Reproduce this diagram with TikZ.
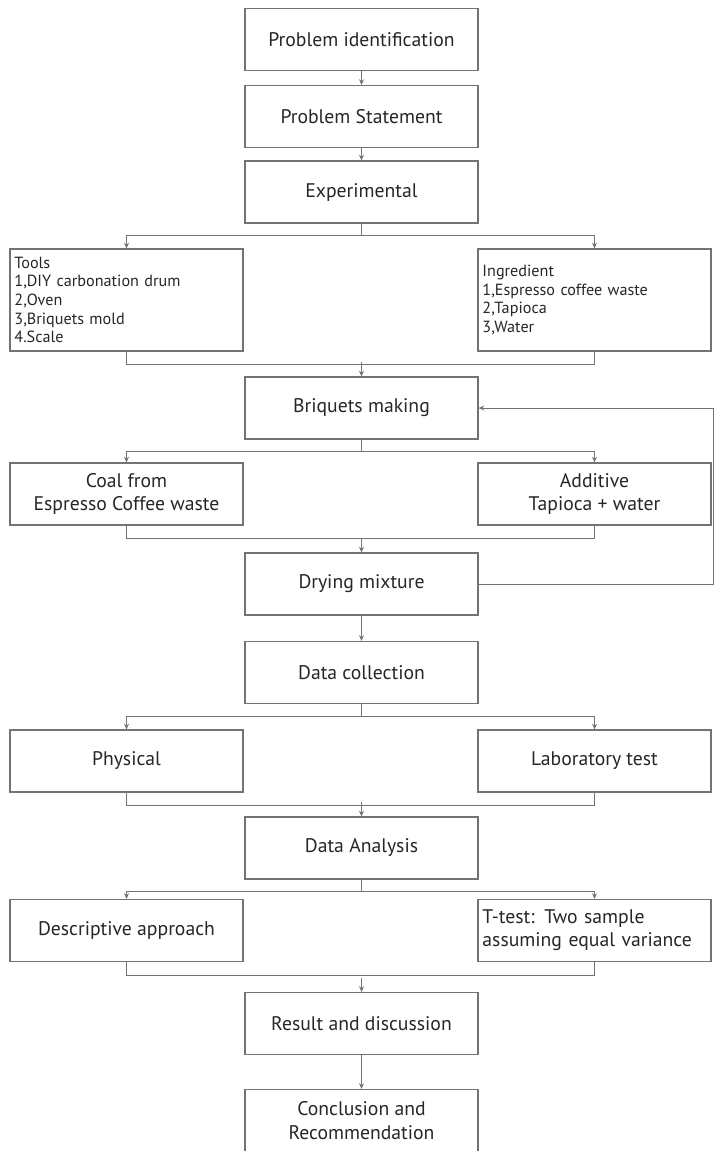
\documentclass[tikz,border=0pt]{standalone}
\usepackage{fontspec}
\setmainfont{PT Sans}
\usepackage{tikz}
\usetikzlibrary{arrows.meta,positioning,calc}

\begin{document}
\begin{tikzpicture}[x=0.025cm, y=-0.025cm, >={Stealth[length=4pt,width=3.5pt]},
  box/.style={draw=black!55, line width=0.8pt, minimum width=5.825cm, minimum height=1.55cm,
    inner sep=0pt, align=center, text=black!85, font=\fontsize{14}{16.5}\selectfont},
  listbox/.style={box, minimum height=2.55cm, align=left, text width=5.6cm,
    font=\fontsize{11.5}{13.3}\selectfont},
  link/.style={draw=black!55, line width=0.7pt}]
  \useasboundingbox (0,0) rectangle (714,1151);

  % Main column
  \node[box] (pid) at (361.5,39.5) {Problem identification};
  \node[box] (pst) at (361.5,116.5) {Problem Statement};
  \node[box] (exp) at (361.5,192) {Experimental};

  % Tools and ingredients
  \node[listbox] (tools) at (126.5,300) {Tools\\1,DIY carbonation drum\\2,Oven\\3,Briquets mold\\4.Scale};
  \node[listbox] (ingr) at (594.5,300) {Ingredient\\1,Espresso coffee waste\\2,Tapioca\\3,Water};

  \node[box] (brq) at (361.5,408) {Briquets making};
  \node[box] (coal) at (126.5,494) {Coal from\\Espresso Coffee waste};
  \node[box] (add) at (594.5,494) {Additive\\Tapioca + water};
  \node[box] (dry) at (361.5,584) {Drying mixture};
  \node[box] (dcol) at (361.5,672.5) {Data collection};
  \node[box] (phys) at (126.5,761) {Physical};
  \node[box] (lab) at (594.5,761) {Laboratory test};
  \node[box] (dan) at (361.5,848) {Data Analysis};
  \node[box] (desc) at (126.5,930.5) {Descriptive approach};
  \node[box, align=left, text width=5.6cm] (ttest) at (594.5,930.5) {T-test: Two sample\\assuming equal variance};
  \node[box] (res) at (361.5,1023.5) {Result and discussion};
  \node[box] (conc) at (361.5,1120.5) {Conclusion and\\Recommendation};

  % Straight links
  \draw[link,->] (pid) -- (pst);
  \draw[link,->] (pst) -- (exp);
  \draw[link,->] (dry) -- (dcol);
  \draw[link,->] (res) -- (conc);

  % Splits
  \foreach \from/\l/\r in {exp/tools/ingr, brq/coal/add, dcol/phys/lab, dan/desc/ttest} {
    \draw[link,->] (\from.south) -- ++(0,12) -| (\l.north);
    \draw[link,->] (\from.south) -- ++(0,12) -| (\r.north);
  }

  % Merges
  \foreach \l/\r/\to in {tools/ingr/brq, coal/add/dry, phys/lab/dan, desc/ttest/res} {
    \draw[link] (\l.south) -- ++(0,13) -| (\r.south);
    \draw[link,->] ($(\to.north)+(0,-14)$) -- (\to.north);
  }

  % Feedback loop
  \coordinate (fb) at (713,0);
  \draw[link,->] (dry.east) -- (dry.east -| fb) |- (brq.east);
\end{tikzpicture}
\end{document}
